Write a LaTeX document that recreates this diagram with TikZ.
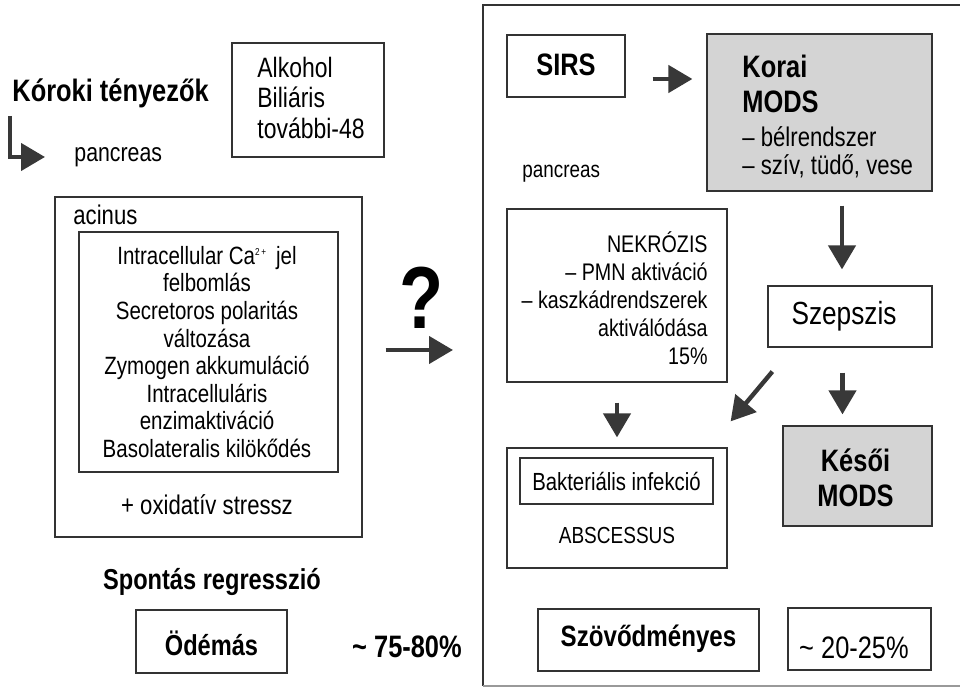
\documentclass[tikz,border=0pt]{standalone}
\usepackage{fontspec}
\setmainfont{Liberation Sans}[FakeStretch=0.82]
\usetikzlibrary{positioning,arrows.meta,fit,calc}
\newcommand{\fsz}[2]{\fontsize{#1}{#2}\selectfont}
\tikzset{
  box/.style={draw=black!80, line width=0.6pt, inner sep=0pt},
  greybox/.style={box, fill=black!17},
  txt/.style={inner sep=0pt, font=\fsz{13}{14}},
  heading/.style={inner sep=0pt, font=\bfseries\fsz{15.5}{17.5}},
  fatarrow/.style={draw=black!78, line width=2.2pt, -{Triangle[length=12pt,width=13.5pt]}},
}
\begin{document}
\begin{tikzpicture}[x=0.5pt,y=-0.5pt]
    \useasboundingbox (0,0) rectangle (960,688);
    % left column: causes and acinus
    \node[heading, anchor=west] (koroki) at (12,93) {Kóroki tényezők};
    \node[box, fit={(232,43) (384,157)}] (etiol) {};
    \node[txt, font=\fsz{14}{15.25}, align=left, anchor=west] (etioltxt) at (257,98) {Alkohol\\Biliáris\\további-48};
    \node[txt, anchor=west] (pancl) at (74,157) {pancreas};
    \draw[fatarrow] ([xshift=-1pt,yshift=-4pt]koroki.south west) |- ([xshift=-14.5pt]pancl.west);
    \node[box, fit={(55,197) (362,537)}] (acinus) {};
    \node[txt, font=\fsz{13.5}{15}, anchor=west] (acinustxt) at (73,215) {acinus};
    \node[box, fit={(79,232) (338,472)}] (cellbox) {};
    \node[txt, align=center, font=\fsz{12.5}{13.8}] (celltxt) at (207,352) {Intracellular Ca{\fsz{5}{5}\raisebox{1.7ex}{2\,+}}\hspace{5pt}jel\\felbomlás\\Secretoros polaritás\\változása\\Zymogen akkumuláció\\Intracelluláris\\enzimaktiváció\\Basolateralis kilökődés};
    \node[txt, font=\fsz{13.5}{15}] (oxid) at (207,505) {+ oxidatív stressz};
    \node[inner sep=0pt, font=\bfseries\fsz{44}{44}] (qmark) at (422,298) {?};
    \node[heading, font=\bfseries\fsz{14.4}{16}] (spont) at (212,582) {Spontás regresszió};
    \node[box, fit={(136,610) (287,673)}] (odemas) {};
    \node[heading, font=\bfseries\fsz{14.4}{16}] (odemastxt) at ([yshift=-1pt]odemas.center) {Ödémás};
    \node[heading] (pctleft) at (407,647) {\textasciitilde\ 75-80\%};
    % right frame (open to the right)
    \coordinate (frametl) at (483,5);
    \draw[draw=black!80, line width=0.6pt] (960,5) -- (frametl) -- (483,686);
    \draw[draw=black!40, line width=0.6pt] (483,686) -- (960,686);
    \draw[fatarrow, shorten <=11.5pt, shorten >=15pt] ([yshift=8.5pt]acinus.east) -- ([yshift=8.5pt]acinus.east -| frametl);
    % right column
    \node[box, fit={(507,35) (625,97)}] (sirs) {};
    \node[heading] (sirstxt) at ([yshift=0.5pt]sirs.center) {SIRS};
    \node[greybox, fit={(707,34) (932,191)}] (korai) {};
    \node[heading, align=left, anchor=west] (koraitxt) at (742,83.5) {Korai\\MODS};
    \node[txt, align=left, anchor=west, font=\fsz{13.5}{14}] (koraiorg) at (742,152) {– bélrendszer\\– szív, tüdő, vese};
    \node[txt, anchor=west, font=\fsz{11.5}{12}] (pancr) at (522,174) {pancreas};
    \node[box, fit={(507,209) (727,382)}] (nekr) {};
    \node[txt, align=right, anchor=east, font=\fsz{12}{14}] (nekrtxt) at (708,298) {NEKRÓZIS\\– PMN aktiváció\\– kaszkádrendszerek\\aktiválódása\\15\%};
    \node[box, fit={(768,286) (932,347)}] (szepszis) {};
    \node[txt, font=\fsz{16}{17}] (szepszistxt) at ([xshift=-3pt]szepszis.center) {Szepszis};
    \node[box, fit={(507,448) (727,568)}] (absc) {};
    \node[box, fit={(520,458) (713,504)}] (bakt) {};
    \node[txt, font=\fsz{12.4}{14}] (bakttxt) at (bakt.center) {Bakteriális infekció};
    \node[txt, font=\fsz{11.6}{13}] (absctxt) at (617,536) {ABSCESSUS};
    \node[greybox, fit={(783,426) (932,526)}] (kesoi) {};
    \node[heading, align=center] (kesoitxt) at ([xshift=-1pt,yshift=-1pt]kesoi.center) {Késői\\MODS};
    \node[box, fit={(538,609) (759,671)}] (szov) {};
    \node[heading, font=\bfseries\fsz{14.7}{16}] (szovtxt) at ([yshift=0.5pt]szov.center) {Szövődményes};
    \node[box, fit={(788,608) (931,670)}] (pctbox) {};
    \node[txt, font=\fsz{15.5}{17}] (pctright) at (854,648) {\textasciitilde\ 20-25\%};
    % arrows
    \draw[fatarrow, shorten <=13.5pt, shorten >=7pt] ([yshift=-6.5pt]sirs.east) -- ([yshift=-6.5pt]sirs.east -| korai.west);
    \draw[fatarrow, shorten <=7pt, shorten >=8pt] ([xshift=-4pt]szepszis.north |- korai.south) -- ([xshift=-4pt]szepszis.north);
    \draw[fatarrow, shorten <=12.5pt, shorten >=5.5pt] ([xshift=-7.5pt]kesoi.north |- szepszis.south) -- ([xshift=-7.5pt]kesoi.north);
    \draw[fatarrow, shorten <=10pt, shorten >=5pt] (nekr.south) -- (absc.north);
    \draw[fatarrow] ($(szepszis.south west)+(5,24)$) -- ($(absc.north east)+(3,-26)$);
\end{tikzpicture}
\end{document}
